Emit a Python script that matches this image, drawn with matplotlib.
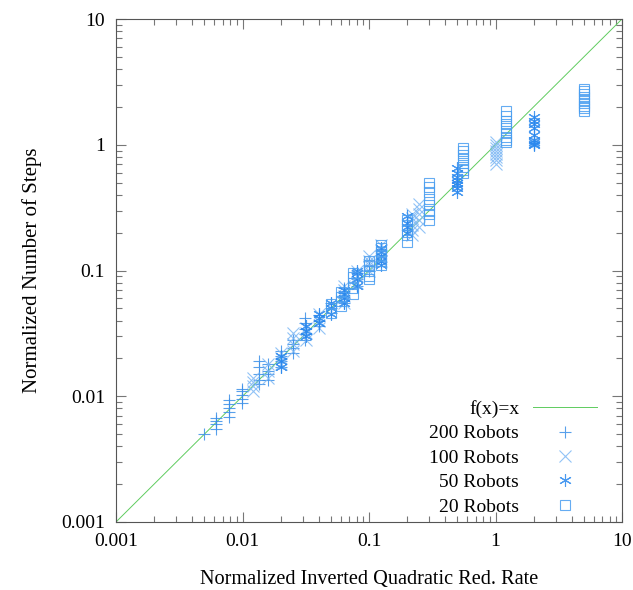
import numpy as np
import matplotlib
matplotlib.use("Agg")
import matplotlib.pyplot as plt
from matplotlib.ticker import LogLocator, NullFormatter, FixedFormatter, FixedLocator

plt.rcParams['font.family'] = ['Liberation Serif', 'DejaVu Serif']

# columns of measurements: x value -> list of y values
r200 = {
    0.005: [0.005],
    0.0062: [0.0055, 0.006, 0.0063, 0.0067],
    0.0078: [0.0068, 0.0075, 0.008, 0.0086, 0.0093],
    0.0099: [0.0088, 0.0095, 0.0102, 0.011, 0.0115],
    0.0135: [0.0125, 0.0135, 0.015, 0.017, 0.019],
    0.016: [0.0135, 0.015, 0.016, 0.018],
    0.02: [0.017, 0.019, 0.021, 0.023],
    0.025: [0.022, 0.024, 0.026, 0.028],
    0.031: [0.028, 0.031, 0.034, 0.038, 0.042],
    0.04: [0.036, 0.04, 0.044],
    0.05: [0.046, 0.05, 0.055],
    0.063: [0.055, 0.06, 0.066, 0.072],
    0.08: [0.075, 0.085, 0.095],
    0.1: [0.1, 0.11, 0.12],
}
r100 = {
    0.012: [0.011, 0.012, 0.013, 0.014],
    0.016: [0.014, 0.016, 0.018],
    0.02: [0.018, 0.02, 0.022],
    0.025: [0.023, 0.026, 0.029, 0.032],
    0.032: [0.028, 0.032, 0.035],
    0.04: [0.035, 0.04, 0.045],
    0.063: [0.055, 0.063, 0.07, 0.075],
    0.08: [0.08, 0.09, 0.1],
    0.1: [0.1, 0.11, 0.12, 0.13],
    0.125: [0.12, 0.13, 0.145, 0.16],
    0.22: [0.19, 0.21, 0.23, 0.26, 0.28],
    0.25: [0.22, 0.25, 0.28, 0.31, 0.34],
    1.0: [0.7, 0.75, 0.8, 0.85, 0.9, 0.95, 1.0, 1.05],
}
r50 = {
    0.02: [0.017, 0.019, 0.021],
    0.032: [0.03, 0.033, 0.036],
    0.04: [0.038, 0.042, 0.045],
    0.05: [0.045, 0.05, 0.055],
    0.063: [0.055, 0.06, 0.065, 0.07],
    0.08: [0.075, 0.085, 0.095, 0.1],
    0.125: [0.11, 0.12, 0.13, 0.14, 0.15],
    0.2: [0.2, 0.22, 0.24, 0.27],
    0.5: [0.42, 0.45, 0.48, 0.5, 0.52, 0.55, 0.6, 0.65],
    2.0: [1.0, 1.02, 1.05, 1.1, 1.2, 1.35, 1.45, 1.55, 1.65],
}
r20 = {
    0.05: [0.046, 0.05, 0.054],
    0.06: [0.052, 0.057, 0.062, 0.068],
    0.075: [0.065, 0.072, 0.08, 0.088, 0.095],
    0.1: [0.085, 0.09, 0.1, 0.11, 0.12],
    0.125: [0.11, 0.12, 0.13, 0.14, 0.15, 0.16],
    0.2: [0.17, 0.19, 0.21, 0.23, 0.25],
    0.3: [0.25, 0.28, 0.3, 0.33, 0.37, 0.42, 0.46, 0.5],
    0.55: [0.6, 0.63, 0.67, 0.72, 0.77, 0.83, 0.9, 0.95],
    1.22: [1.05, 1.1, 1.15, 1.25, 1.35, 1.45, 1.55, 1.7, 1.85],
    5.0: [1.85, 1.95, 2.05, 2.15, 2.25, 2.4, 2.55, 2.7, 2.8],
}

ticks = [0.001, 0.01, 0.1, 1, 10]
tick_labels = ['0.001', '0.01', '0.1', '1', '10']


def flat(d):
    xs, ys = [], []
    for k, v in d.items():
        xs += [k] * len(v)
        ys += v
    return np.array(xs), np.array(ys)


fig = plt.figure(figsize=(6.33, 5.90), dpi=100)
ax = fig.add_axes([116 / 633, 68 / 590, 506 / 633, 503 / 590])

fx = np.array([0.001, 10])
ax.plot(fx, fx, color='#5fcc5f', lw=0.7, label='f(x)=x')

series = [
    (r200, '+', '#3b8fe8', '200 Robots', 9),
    (r100, 'x', '#7fb8f4', '100 Robots', 8),
    (r50, (6, 2, 0), '#2a88ee', '50 Robots', 9),
    (r20, 's', '#4a9ef0', '20 Robots', 7.5),
]
for d, m, c, lab, ms in series:
    x, y = flat(d)
    if m == 's':
        ax.plot(x, y, ls='none', marker=m, ms=ms, mfc='none', mec=c, mew=0.8,
                alpha=0.85, label=lab)
    else:
        ax.plot(x, y, ls='none', marker=m, ms=ms, color=c, mew=0.8,
                alpha=0.85, label=lab)

ax.set_xscale('log')
ax.set_yscale('log')
ax.set_xlim(0.001, 10)
ax.set_ylim(0.001, 10)
ax.xaxis.set_major_locator(FixedLocator(ticks))
ax.yaxis.set_major_locator(FixedLocator(ticks))
ax.xaxis.set_major_formatter(FixedFormatter(tick_labels))
ax.yaxis.set_major_formatter(FixedFormatter(tick_labels))
ax.xaxis.set_minor_locator(LogLocator(base=10, subs=np.arange(2, 10)))
ax.yaxis.set_minor_locator(LogLocator(base=10, subs=np.arange(2, 10)))
ax.xaxis.set_minor_formatter(NullFormatter())
ax.yaxis.set_minor_formatter(NullFormatter())
ax.tick_params(which='both', direction='in', top=True, right=True,
               color='#777777', labelsize=14, labelcolor='black')
ax.tick_params(which='major', length=7, width=0.8, pad=8)
ax.tick_params(which='minor', length=4, width=0.8)
for s in ax.spines.values():
    s.set_color('#555555')
    s.set_linewidth(0.8)

ax.set_xlabel('Normalized Inverted Quadratic Red. Rate', fontsize=14.6, labelpad=14)
ax.set_ylabel('Normalized Number of Steps', fontsize=15, labelpad=14)

leg = ax.legend(loc='lower right', bbox_to_anchor=(0.985, -0.022), frameon=False,
                markerfirst=False, fontsize=14, handlelength=3.3,
                handletextpad=0.7, labelspacing=0.35)

fig.savefig('out.png', dpi=100)
